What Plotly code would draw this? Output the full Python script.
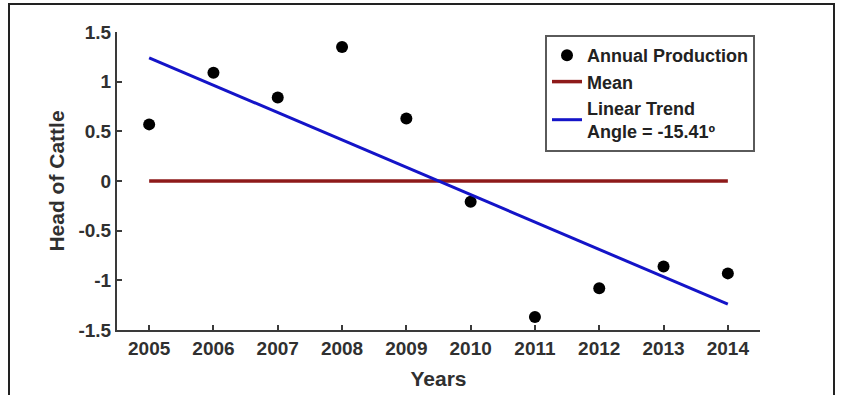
import math
import plotly.graph_objects as go

# Annual production anomalies (head of cattle), 2005-2014
years = [2005, 2006, 2007, 2008, 2009, 2010, 2011, 2012, 2013, 2014]
production = [0.57, 1.09, 0.84, 1.35, 0.63, -0.21, -1.37, -1.08, -0.86, -0.93]
mean_value = 0.0
trend_angle_deg = -15.41

y_tick_vals = [1.5, 1, 0.5, 0, -0.5, -1, -1.5]
y_tick_text = ["1.5", "1", "0.5", "0", "-0.5", "-1", "-1.5"]
x_tick_text = [str(y) for y in years]

# Linear trend passes through the centre of the series with slope tan(angle)
x_mid = (years[0] + years[-1]) / 2
slope = math.tan(math.radians(trend_angle_deg))
trend_x = [years[0], years[-1]]
trend_y = [mean_value + slope * (x - x_mid) for x in trend_x]

W, H = 843, 395
ML, MR, MT, MB = 117, 83, 32, 65
pw, ph = W - ML - MR, H - MT - MB

font_family = "Liberation Sans, Arial, sans-serif"
text_color = "#303030"
axis_color = "#3a3a3a"

fig = go.Figure()
fig.add_trace(go.Scatter(
    x=years, y=production, mode="markers", name="Annual Production",
    marker=dict(color="black", size=12),
))
fig.add_trace(go.Scatter(
    x=[years[0], years[-1]], y=[mean_value, mean_value], mode="lines",
    name="Mean", line=dict(color="#8e1a1a", width=3.5),
))
fig.add_trace(go.Scatter(
    x=trend_x, y=trend_y, mode="lines",
    name=f"Linear Trend<br>Angle = {trend_angle_deg:.2f}º",
    line=dict(color="#1414c8", width=3),
))

def px_x(p):
    return (p - ML) / pw

def px_y(p):
    return (H - MB - p) / ph

# outer frame around the whole figure
fig.add_shape(type="rect", xref="paper", yref="paper",
              x0=px_x(9), x1=px_x(834), y0=px_y(420), y1=px_y(4),
              line=dict(color="#222222", width=2), layer="below")

tick_font = dict(family=font_family, size=19, color=text_color, weight="bold")
title_font = dict(family=font_family, size=21, color=text_color, weight="bold")

fig.update_layout(
    width=W, height=H,
    margin=dict(l=ML, r=MR, t=MT, b=MB),
    paper_bgcolor="white", plot_bgcolor="white",
    font=dict(family=font_family, color=text_color, size=17, weight="bold"),
    showlegend=True,
    legend=dict(
        x=px_x(545), y=px_y(35), xanchor="left", yanchor="top",
        bgcolor="white", bordercolor="#5a5a5a", borderwidth=2,
        font=dict(family=font_family, size=18, color="#222222", weight="bold"),
        itemwidth=30, tracegroupgap=0,
    ),
    xaxis=dict(
        range=[2004.5, 2014.5], tickmode="array", tickvals=years,
        ticktext=x_tick_text, ticks="inside", ticklen=5, tickwidth=1.5,
        tickcolor=axis_color, showline=True, linecolor=axis_color, linewidth=2,
        showgrid=False, zeroline=False, automargin=False,
        tickfont=tick_font,
        title=dict(text="Years", standoff=14, font=title_font),
    ),
    yaxis=dict(
        range=[-1.5, 1.5], tickmode="array", tickvals=y_tick_vals,
        ticktext=y_tick_text, ticks="inside", ticklen=5, tickwidth=1.5,
        tickcolor=axis_color, showline=True, linecolor=axis_color, linewidth=2,
        showgrid=False, zeroline=False, automargin=False,
        tickfont=tick_font,
        title=dict(text="Head of Cattle", standoff=8, font=title_font),
    ),
)

fig.write_html("out.html")
